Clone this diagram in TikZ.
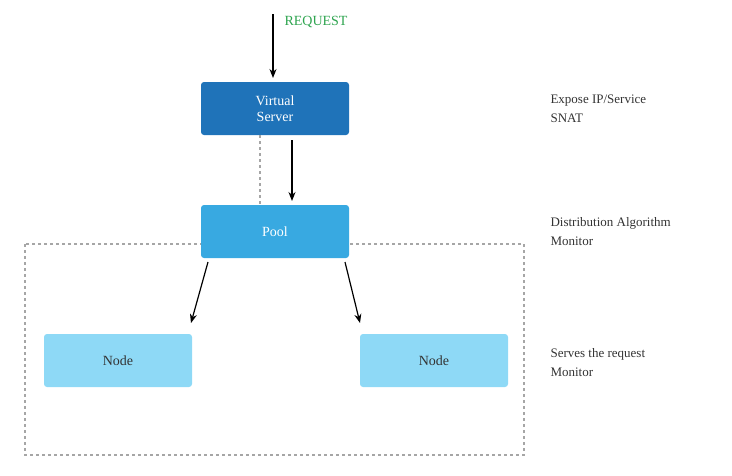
\documentclass[tikz,border=0pt]{standalone}
\usepackage{fontspec}
\setmainfont{Liberation Serif}
\usetikzlibrary{arrows.meta}
\definecolor{vs}{HTML}{1F73B9}
\definecolor{pool}{HTML}{38A9E1}
\definecolor{nodec}{HTML}{8ED9F6}
\definecolor{req}{HTML}{2EA44F}
\definecolor{txt}{HTML}{333333}
\begin{document}
\begin{tikzpicture}[x=1pt,y=-1pt,
  box/.style={rounded corners=3pt,minimum width=148pt,minimum height=53pt,align=center,font=\fontsize{14}{16}\selectfont},
  arr/.style={-{Stealth[length=9pt,width=7pt]},line width=1.2pt,black},
  dsh/.style={gray!70,dashed,line width=1.3pt,dash pattern=on 3pt off 3pt},
  lab/.style={anchor=west,align=left,text=txt,font=\fontsize{13}{19}\selectfont}]
\useasboundingbox (0,0) rectangle (732,475);
\draw[dsh] (25,244) rectangle (524,455);
\node[box,fill=vs,text=white] (vs) at (275,108.5) {Virtual\\Server};
\node[box,fill=pool,text=white] (pool) at (275,231.5) {Pool};
\node[box,fill=nodec,text=txt] (n1) at (118,360.5) {Node};
\node[box,fill=nodec,text=txt] (n2) at (434,360.5) {Node};
\coordinate (rq) at (273,14);
\draw[arr] (rq) -- (273,78);
\node[anchor=west,text=req,font=\fontsize{14}{16}\selectfont] (rt) at (281,22) {REQUEST};
\draw[dsh] (260,135) -- (260,205);
\draw[arr] (292,140) -- (292,201);
\draw[arr] (208,262) -- (191,323);
\draw[arr] (345,262) -- (360,323);
\node[lab] (l1) at (547,108.5) {Expose IP/Service\\SNAT};
\node[lab] (l2) at (547,231.5) {Distribution Algorithm\\Monitor};
\node[lab] (l3) at (547,362.5) {Serves the request\\Monitor};
\end{tikzpicture}
\end{document}
